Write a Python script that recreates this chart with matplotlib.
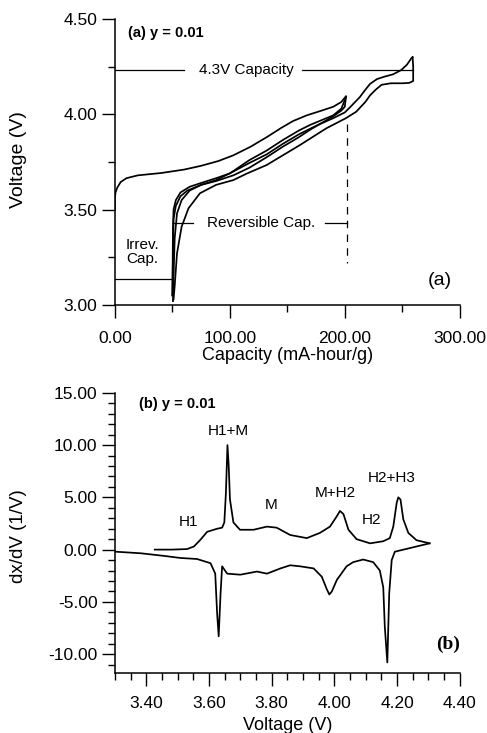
import numpy as np
import matplotlib
matplotlib.use("Agg")
import matplotlib.pyplot as plt
from matplotlib.ticker import MultipleLocator, FormatStrFormatter

plt.rcParams['font.family'] = ['Liberation Sans', 'DejaVu Sans']

# ---- panel (a): voltage vs capacity ----
# first charge
c1_cap = [0, 0, 0.5, 2, 5, 10, 20, 40, 60, 75, 90, 103, 118, 132, 145, 155, 167, 180, 190, 197, 201]
c1_v = [3.50, 3.56, 3.59, 3.615, 3.645, 3.665, 3.68, 3.692, 3.71, 3.73, 3.755, 3.785, 3.83, 3.88,
        3.93, 3.965, 3.995, 4.02, 4.04, 4.065, 4.095]
# discharge from 4.1 V
d1_cap = [201, 200, 197, 190, 180, 170, 160, 146, 132, 117, 103, 88, 75, 65, 58, 54, 52, 51, 50.5]
d1_v = [4.09, 4.04, 4.02, 3.99, 3.955, 3.92, 3.88, 3.83, 3.775, 3.72, 3.68, 3.65, 3.63, 3.60,
        3.55, 3.48, 3.35, 3.15, 3.02]
# second charge to 4.1 V
c2_cap = [50, 50.5, 51, 53, 57, 65, 75, 88, 100, 117, 132, 146, 160, 170, 180, 190, 197, 201]
c2_v = [3.05, 3.40, 3.50, 3.55, 3.59, 3.62, 3.64, 3.665, 3.69, 3.76, 3.81, 3.865, 3.915, 3.945,
        3.97, 3.995, 4.03, 4.09]
# charge to 4.3 V
c3_cap = [50, 51, 53, 57, 63, 75, 88, 103, 117, 132, 146, 160, 175, 190, 200, 205, 213, 218, 222,
          228, 234, 242, 249, 254, 258, 259]
c3_v = [3.05, 3.45, 3.52, 3.57, 3.60, 3.63, 3.655, 3.70, 3.745, 3.79, 3.845, 3.895, 3.94, 3.98,
        4.01, 4.04, 4.09, 4.13, 4.16, 4.185, 4.197, 4.21, 4.232, 4.26, 4.295, 4.30]
# discharge from 4.3 V
d3_cap = [259, 259.5, 259.5, 256, 250, 240, 232, 227, 222, 218, 214, 210, 201, 184, 161, 132, 115,
          103, 88, 74, 64, 58, 54, 52, 51]
d3_v = [4.30, 4.25, 4.175, 4.165, 4.163, 4.163, 4.155, 4.13, 4.10, 4.066, 4.04, 4.014, 3.98, 3.927,
        3.839, 3.734, 3.69, 3.655, 3.63, 3.586, 3.507, 3.41, 3.27, 3.10, 3.03]

# ---- panel (b): dx/dV vs voltage ----
ch_v = [3.427, 3.48, 3.53, 3.552, 3.573, 3.594, 3.626, 3.642, 3.649, 3.654, 3.659, 3.663, 3.667,
        3.678, 3.699, 3.742, 3.785, 3.816, 3.859, 3.912, 3.954, 3.986, 4.008, 4.018, 4.029, 4.045,
        4.071, 4.114, 4.156, 4.177, 4.188, 4.199, 4.204, 4.211, 4.220, 4.236, 4.262, 4.304]
ch_dxdv = [0.0, 0.0, 0.05, 0.3, 0.95, 1.7, 2.0, 2.1, 2.6, 5.4, 10.0, 8.0, 4.8,
           2.6, 1.9, 1.9, 2.2, 2.1, 1.4, 1.1, 1.6, 2.2, 3.2, 3.7, 3.4, 1.9,
           1.0, 0.6, 0.8, 1.1, 2.2, 4.5, 5.0, 4.8, 2.9, 1.6, 0.9, 0.6]
dis_v = [4.304, 4.193, 4.183, 4.175, 4.169, 4.161, 4.156, 4.145, 4.124, 4.092, 4.060, 4.039, 4.008,
         3.992, 3.984, 3.976, 3.960, 3.934, 3.891, 3.859, 3.828, 3.785, 3.753, 3.700, 3.658, 3.642,
         3.637, 3.631, 3.626, 3.620, 3.605, 3.562, 3.509, 3.456, 3.382, 3.302]
dis_dxdv = [0.6, -0.2, -1.0, -4.2, -10.8, -7.4, -3.6, -2.0, -1.2, -0.95, -1.2, -1.6, -2.9,
            -4.0, -4.3, -3.8, -2.6, -1.8, -1.6, -1.5, -1.8, -2.3, -2.1, -2.4, -2.3, -1.6,
            -4.2, -8.3, -6.1, -2.3, -1.3, -0.9, -0.8, -0.6, -0.35, -0.2]

phase_labels = ['H1', 'H1+M', 'M', 'M+H2', 'H2', 'H2+H3']
phase_x = [3.534, 3.661, 3.798, 4.004, 4.117, 4.183]
phase_y = [2.6, 11.4, 4.3, 5.4, 2.85, 6.85]

fig = plt.figure(figsize=(4.87, 7.33), dpi=100)
ax1 = fig.add_axes([0.236, 0.584, 0.708, 0.390])
ax2 = fig.add_axes([0.236, 0.082, 0.708, 0.382])

lw = 1.25
for cx, cy in [(c1_cap, c1_v), (d1_cap, d1_v), (c2_cap, c2_v), (c3_cap, c3_v), (d3_cap, d3_v)]:
    ax1.plot(cx, cy, color='black', lw=lw)

# annotation lines
ax1.plot([0, 60], [4.235, 4.235], color='black', lw=0.9)
ax1.plot([163, 259.5], [4.235, 4.235], color='black', lw=0.9)
ax1.plot([0, 50], [3.136, 3.136], color='black', lw=0.9)
ax1.plot([50.7, 68], [3.43, 3.43], color='black', lw=0.9)
ax1.plot([182.6, 201.5], [3.43, 3.43], color='black', lw=0.9)
ax1.plot([201.5, 201.5], [3.95, 3.22], color='black', lw=0.9, linestyle=(0, (6, 5)))

ax1.text(11.3, 4.426, '(a) y = 0.01', fontsize=10.5, fontweight='bold', ha='left', va='center')
ax1.text(114.8, 4.235, '4.3V Capacity', fontsize=11, ha='center', va='center')
ax1.text(127.4, 3.43, 'Reversible Cap.', fontsize=11, ha='center', va='center')
ax1.text(9.6, 3.278, 'Irrev.\nCap.', fontsize=11, ha='left', va='center', linespacing=1.05)
ax1.text(282.6, 3.13, '(a)', fontsize=14, ha='center', va='center')

ax1.set_xlim(0, 300)
ax1.set_ylim(3.0, 4.5)
ax1.xaxis.set_major_locator(MultipleLocator(100))
ax1.xaxis.set_minor_locator(MultipleLocator(50))
ax1.yaxis.set_major_locator(MultipleLocator(0.5))
ax1.yaxis.set_minor_locator(MultipleLocator(0.25))
ax1.xaxis.set_major_formatter(FormatStrFormatter('%.2f'))
ax1.yaxis.set_major_formatter(FormatStrFormatter('%.2f'))
ax1.set_xlabel('Capacity (mA-hour/g)', fontsize=13)
ax1.set_ylabel('Voltage (V)', fontsize=14)
ax1.xaxis.set_label_coords(0.5, -0.147)
ax1.yaxis.set_label_coords(-0.256, 0.51)

ax2.plot(ch_v, ch_dxdv, color='black', lw=lw)
ax2.plot(dis_v, dis_dxdv, color='black', lw=lw)
for lab, px, py in zip(phase_labels, phase_x, phase_y):
    ax2.text(px, py, lab, fontsize=11, ha='center', va='center')
ax2.text(3.377, 13.9, '(b) y = 0.01', fontsize=10.5, fontweight='bold', ha='left', va='center')
ax2.text(4.363, -9.1, '(b)', fontsize=14, fontweight='bold', ha='center', va='center',
         family='Liberation Serif')

ax2.set_xlim(3.3, 4.4)
ax2.set_ylim(-11.8, 15)
ax2.xaxis.set_major_locator(MultipleLocator(0.2))
ax2.xaxis.set_minor_locator(MultipleLocator(0.05))
ax2.yaxis.set_major_locator(MultipleLocator(5))
ax2.yaxis.set_minor_locator(MultipleLocator(1))
ax2.xaxis.set_major_formatter(FormatStrFormatter('%.2f'))
ax2.yaxis.set_major_formatter(FormatStrFormatter('%.2f'))
ax2.set_xlabel('Voltage (V)', fontsize=13)
ax2.set_ylabel('dx/dV (1/V)', fontsize=13.5)
ax2.xaxis.set_label_coords(0.5, -0.157)
ax2.yaxis.set_label_coords(-0.255, 0.49)

for ax in (ax1, ax2):
    ax.spines['top'].set_visible(False)
    ax.spines['right'].set_visible(False)
    ax.spines['left'].set_linewidth(1.1)
    ax.spines['bottom'].set_linewidth(1.1)
    ax.tick_params(which='major', direction='out', length=9.5, width=1.0, labelsize=12.5, pad=3)
    ax.tick_params(which='minor', direction='out', length=5, width=1.0)

ax1.tick_params(axis='x', which='major', pad=9)
ax2.tick_params(axis='x', which='major', pad=7)

fig.savefig('out.png', dpi=100)
